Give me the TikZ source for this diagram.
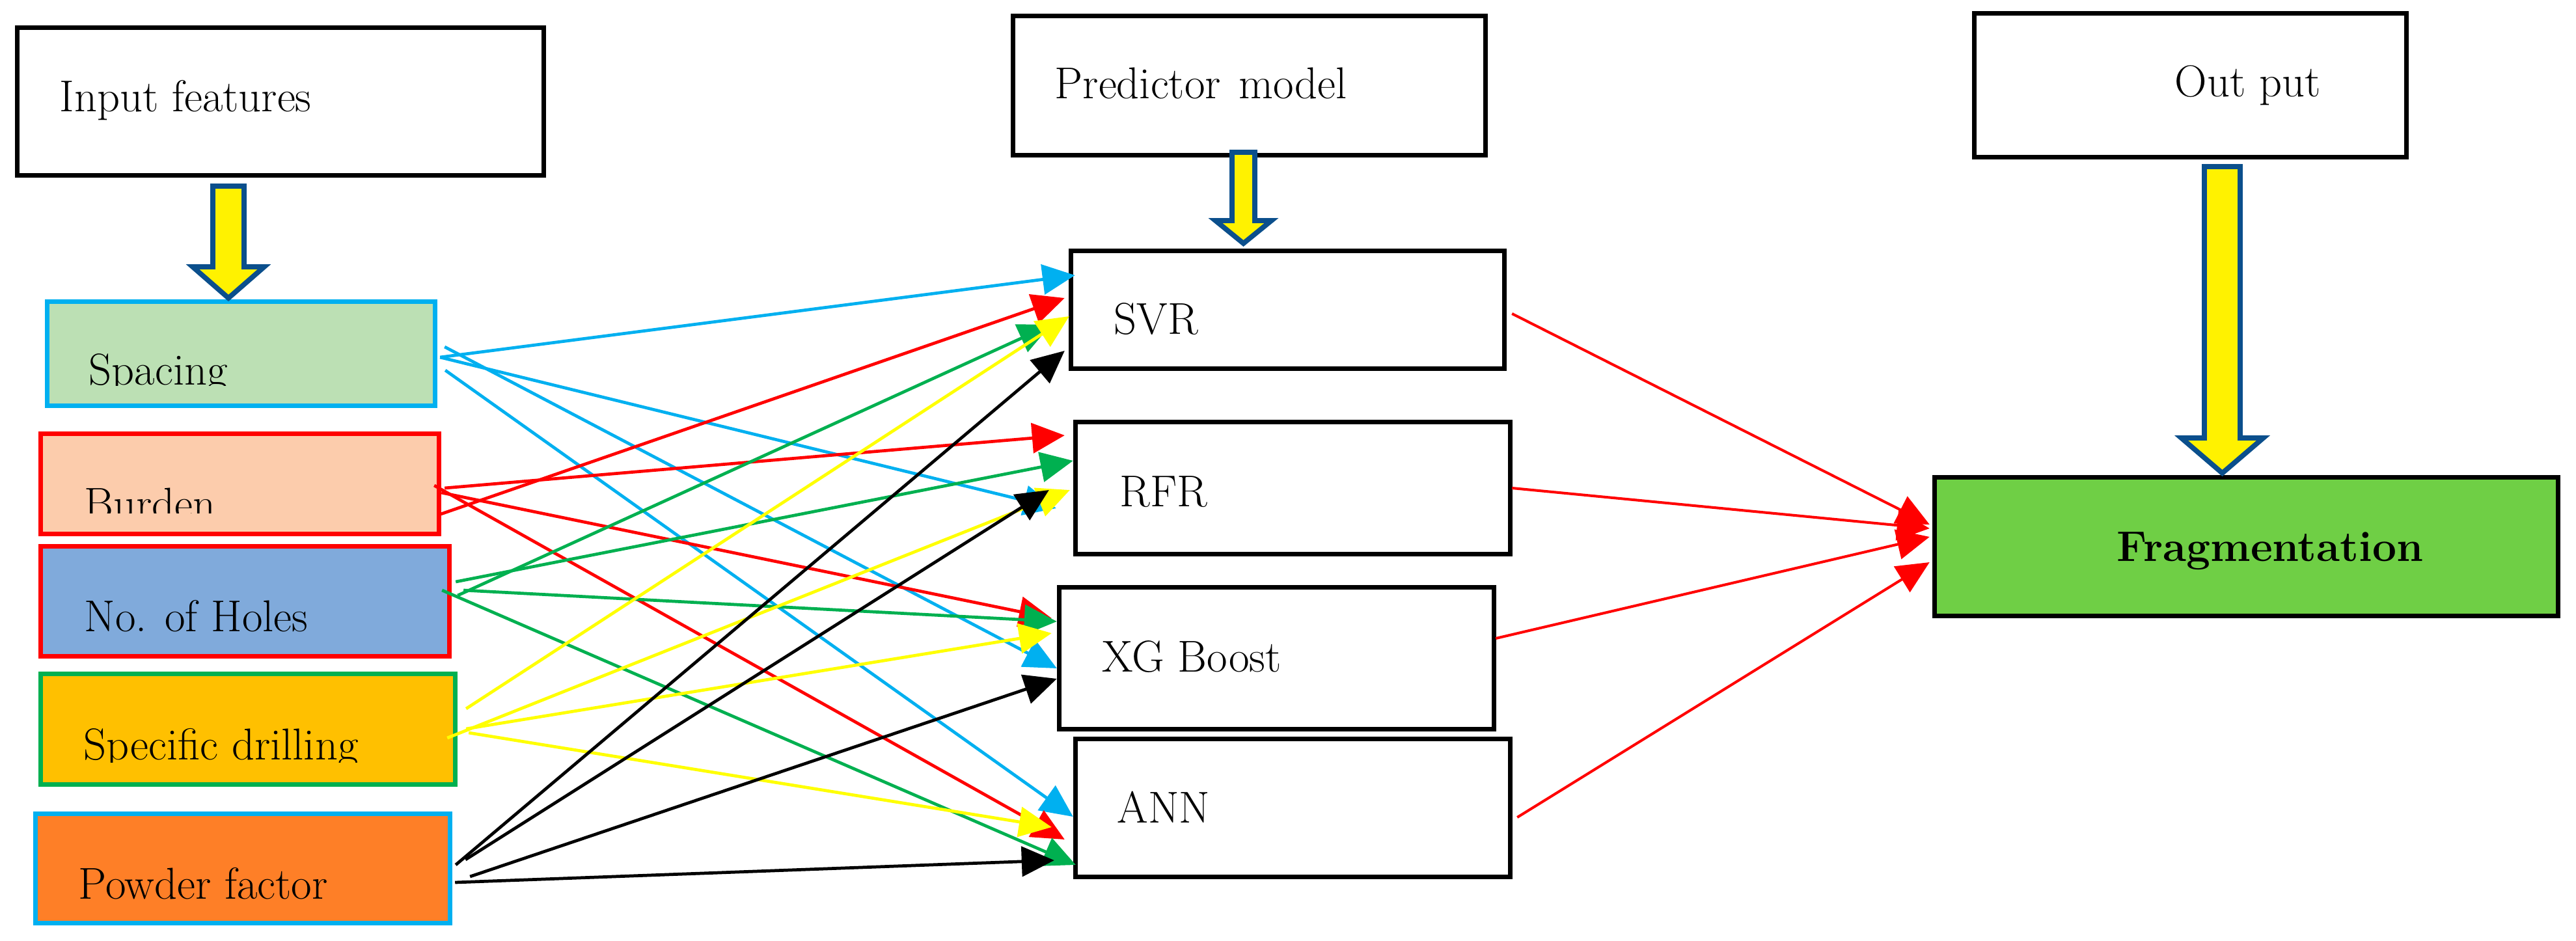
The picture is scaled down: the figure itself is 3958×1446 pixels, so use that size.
\documentclass[tikz,border=0pt]{standalone}
\usepackage{fontspec}
\usetikzlibrary{arrows.meta}

\definecolor{incyan}{RGB}{0,176,240}
\definecolor{inred}{RGB}{255,0,0}
\definecolor{ingreen}{RGB}{0,176,80}
\definecolor{inyellow}{RGB}{255,255,0}
\definecolor{spacingfill}{RGB}{188,224,180}
\definecolor{burdenfill}{RGB}{252,204,172}
\definecolor{holesfill}{RGB}{128,170,219}
\definecolor{drillfill}{RGB}{255,192,0}
\definecolor{powderfill}{RGB}{254,127,39}
\definecolor{fragfill}{RGB}{111,207,69}
\definecolor{arrowblue}{RGB}{11,79,140}

\begin{document}
\begin{tikzpicture}[> = {Triangle[length = 5mm, width = 4.6mm]}, x = 0.01cm, y = -0.01cm,
	box/.style = {draw, line width = 2pt, inner sep = 0pt},
	boxtext/.style = {anchor = base west, inner sep = 0pt, font = \fontsize{19.5}{23}\selectfont},
	link/.style = {->, line width = 1.35pt},
	fatarrow/.style = {draw = arrowblue, fill = yellow, line width = 2.2pt}]

	\useasboundingbox (0, 0) rectangle (3958, 1446);

	% Boxes

	\foreach \name/\cx/\cy/\w/\h/\col/\fil in {
		input/431/156/8.09/2.27/black/white,
		pred/1919.5/131.5/7.26/2.14/black/white,
		outp/3365.5/131/6.64/2.21/black/white,
		spacing/370.5/543.5/5.96/1.60/incyan/spacingfill,
		burden/368.5/743.5/6.12/1.54/inred/burdenfill,
		holes/376.5/924/6.28/1.69/inred/holesfill,
		drill/381/1120.5/6.37/1.70/ingreen/drillfill,
		powder/373/1334.5/6.37/1.68/incyan/powderfill,
		svr/1978.5/476/6.66/1.81/black/white,
		rfr/1986.5/750/6.68/2.03/black/white,
		xgb/1961.5/1011.5/6.68/2.18/black/white,
		ann/1986.5/1241.5/6.68/2.12/black/white,
		frag/3451.5/840/9.58/2.13/black/fragfill}
		\node [box, draw = \col, fill = \fil, minimum width = \w cm, minimum height = \h cm] (\name) at (\cx, \cy) {};

	% Box texts

	\node [boxtext] (input-text) at (91, 172) {Input features};
	\node [boxtext] (pred-text) at (1620, 152) {Predictor\hspace{0.4em}model};
	\node [boxtext] (outp-text) at (3341, 149) {Out put};

	\begin{scope}
		\clip (100, 470) rectangle (660, 592);
		\node [boxtext] (spacing-text) at (136, 591) {Spacing};
	\end{scope}
	\begin{scope}
		\clip (100, 672) rectangle (660, 788);
		\node [boxtext] (burden-text) at (129, 797) {Burden};
	\end{scope}
	\node [boxtext] (holes-text) at (129, 970) {No. of Holes};
	\begin{scope}
		\clip (100, 1042) rectangle (690, 1171);
		\node [boxtext] (drill-text) at (128, 1167) {Specific drilling};
	\end{scope}
	\node [boxtext] (powder-text) at (120, 1381) {Powder factor};

	\node [boxtext] (svr-text) at (1711, 514) {SVR};
	\node [boxtext] (rfr-text) at (1720, 778) {RFR};
	\node [boxtext] (xgb-text) at (1693, 1032) {XG Boost};
	\node [boxtext] (ann-text) at (1716, 1264) {ANN};
	\node [boxtext, font = \fontsize{18.7}{22}\selectfont\bfseries] (frag-text) at (3252, 862) {Fragmentation};

	% Links from the input features to the models

	\foreach \sx/\sy/\dst/\tx/\ty in {4/5.5/svr/10/-53, 4/5.5/rfr/-26/31, 11/-10.5/xgb/0/15.5, 12/25.5/ann/0/13.5}
		\draw [link, incyan] ([shift = {(\sx, \sy)}]spacing.east) -- ([shift = {(\tx, \ty)}]\dst.west);

	\foreach \sx/\sy/\dst/\tx/\ty in {-1/46.5/svr/-6/-18, 5/6.5/rfr/-13/-81, 0/13.5/xgb/-8/-61.5, -11/2.5/ann/-13/48.5}
		\draw [link, inred] ([shift = {(\sx, \sy)}]burden.east) -- ([shift = {(\tx, \ty)}]\dst.west);

	\foreach \sx/\sy/\dst/\tx/\ty in {9/-9/svr/-27/23, 6/-30/rfr/0/-42, 18/-17/xgb/0/-56.5, -15/-17/ann/4/87.5}
		\draw [link, ingreen] ([shift = {(\sx, \sy)}]holes.east) -- ([shift = {(\tx, \ty)}]\dst.west);

	\foreach \sx/\sy/\dst/\tx/\ty in {13/-31.5/svr/1/10, -16/13.5/rfr/-5/3, 13/-0.5/xgb/-8/-38.5, 17/5.5/ann/-33/29.5}
		\draw [link, inyellow] ([shift = {(\sx, \sy)}]drill.east) -- ([shift = {(\tx, \ty)}]\dst.west);

	\foreach \sx/\sy/\dst/\tx/\ty in {5/-5.5/svr/-6/63, 20/-13.5/rfr/-37/3, 27/12.5/xgb/0/31.5, 4/21.5/ann/-29/80.5}
		\draw [link, black] ([shift = {(\sx, \sy)}]powder.east) -- ([shift = {(\tx, \ty)}]\dst.west);

	% Links from the models to the output

	\foreach \src/\sx/\sy/\ty in {svr/8/6/-34, rfr/-1/0/-28, xgb/-1/-30.5/-15, ann/7/14.5/24}
		\draw [link, inred, line width = 1.15pt] ([shift = {(\sx, \sy)}]\src.east) -- ([shift = {(-4, \ty)}]frag.west);

	% Block arrows

	\foreach \cx/\sw/\ty/\hy/\hw/\tip in {351/24/286/410/55/458, 1910.5/17.5/234/339/43/374, 3414.5/27.5/256/673/63/727}
		\draw [fatarrow] (\cx - \sw, \ty) -- (\cx + \sw, \ty) -- (\cx + \sw, \hy) -- (\cx + \hw, \hy)
			-- (\cx, \tip) -- (\cx - \hw, \hy) -- (\cx - \sw, \hy) -- cycle;

\end{tikzpicture}
\end{document}
